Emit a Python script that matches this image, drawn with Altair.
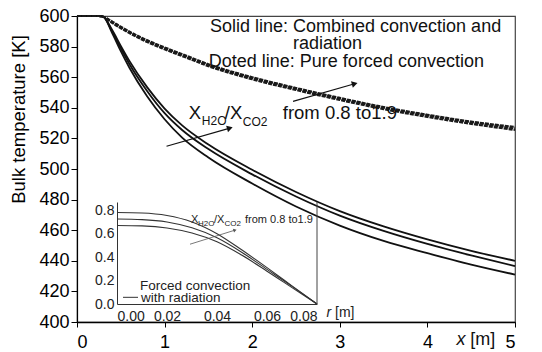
import altair as alt
import pandas as pd

# ---------------- main chart data ----------------
x_solid = [0, 0.25, 0.3, 0.4, 0.5, 0.6, 0.8, 1.0, 1.2, 1.5, 2.0, 2.5, 3.0, 3.5, 4.0, 4.5, 5.0]
T_solid_a = [600, 600, 599.5, 591, 580.5, 570.5, 553.5, 539.5, 528.5, 516, 499.5, 485, 472.5, 462.5, 454, 446.5, 440]
T_solid_b = [600, 600, 599.5, 590, 579, 568.5, 551, 536.5, 525.5, 513, 496.5, 482, 469.5, 459.5, 451, 443.5, 436.5]
T_solid_c = [600, 600, 599.5, 589, 577, 566, 547.5, 532.5, 520.5, 507.5, 490.5, 475.5, 463, 453, 445, 437.5, 431]

x_forced = [0, 0.25, 0.3, 0.4, 0.5, 0.75, 1.0, 1.25, 1.5, 2.0, 2.5, 3.0, 3.5, 4.0, 4.5, 5.0]
T_forced_a = [600, 600, 599.5, 596.5, 593, 585.5, 579.5, 574, 568.5, 560, 553, 546.5, 540.5, 535.5, 531, 527.5]
T_forced_b = [600, 600, 599.5, 596, 592.5, 585, 579, 573.5, 568, 559.5, 552.5, 546, 540, 535, 530.5, 526.5]
T_forced_c = [600, 600, 599.5, 595.5, 592, 584.3, 578.2, 572.7, 567.2, 558.6, 551.6, 545.1, 539.1, 534, 529.5, 525.5]

y_ticks = [400, 420, 440, 460, 480, 500, 520, 540, 560, 580, 600]
x_ticks = [0, 1, 2, 3, 4, 5]

# annotation texts of the main plot (data coordinates)
note_text = ["Solid line: Combined convection and", "radiation", "Doted line: Pure forced convection"]
note_x = [3.18, 2.86, 3.075]
note_T = [593, 581.5, 570.2]

ratio_text = ["X", "H2O", "/X", "CO2", "from 0.8 to1.9"]
ratio_x = [1.277, 1.425, 1.688, 1.893, 2.349]
ratio_T = [536.8, 531.6, 536.8, 531.0, 536.8]
ratio_size = [18.5, 12, 18.5, 12, 18.5]

arrow_x = [1.022, 2.466]
arrow_T = [514.9, 544.2]
arrow_x2 = [1.745, 3.170]
arrow_T2 = [526.7, 555.7]
arrow_angle = [74, 74]

# ---------------- inset data ----------------
r_inset = [0, 0.01, 0.02, 0.03, 0.04, 0.05, 0.06, 0.07, 0.08]
v_a = [0.78, 0.776, 0.755, 0.70, 0.60, 0.46, 0.31, 0.155, 0.0]
v_b = [0.725, 0.72, 0.70, 0.65, 0.565, 0.44, 0.295, 0.15, 0.0]
v_c = [0.67, 0.666, 0.648, 0.605, 0.53, 0.415, 0.28, 0.14, 0.0]
r_ticks = [0.0, 0.02, 0.04, 0.06, 0.08]
v_ticks = [0.0, 0.2, 0.4, 0.6, 0.8]

inset_text = ["X", "H2O", "/X", "CO2", "from 0.8 to1.9", "Forced convection", "with radiation"]
inset_tx = [0.0296, 0.0324, 0.0388, 0.0430, 0.0512, 0.0092, 0.0096]
inset_tv = [0.715, 0.681, 0.715, 0.681, 0.715, 0.152, 0.049]
inset_tsize = [11, 8, 11, 8, 11, 13.5, 13.5]

inset_arrow = {"r": [0.0292], "v": [0.51], "r2": [0.0472], "v2": [0.63], "angle": [72]}
legend_seg = {"r": [0.0024], "v": [0.057], "r2": [0.0084], "v2": [0.057]}

FONT = "Liberation Sans"

# ---------------- build frames ----------------
solid_rows = []
for name, ys in [("a", T_solid_a), ("b", T_solid_b), ("c", T_solid_c)]:
    for x, t in zip(x_solid, ys):
        solid_rows.append({"x": x, "T": t, "s": name})
solid_df = pd.DataFrame(solid_rows)

forced_rows = []
for name, ys in [("a", T_forced_a), ("b", T_forced_b), ("c", T_forced_c)]:
    for x, t in zip(x_forced, ys):
        forced_rows.append({"x": x, "T": t, "s": name})
forced_df = pd.DataFrame(forced_rows)

notes_df = pd.DataFrame({"x": note_x, "T": note_T, "text": note_text})
ratio_df = pd.DataFrame({"x": ratio_x, "T": ratio_T, "text": ratio_text, "size": ratio_size})
arrow_df = pd.DataFrame({"x": arrow_x, "T": arrow_T, "x2": arrow_x2, "T2": arrow_T2, "angle": arrow_angle})
head_df = pd.DataFrame({"x": arrow_x2, "T": arrow_T2, "angle": arrow_angle})
xlabel_it_df = pd.DataFrame({"x": [4.333], "T": [388.5], "text": ["x"]})
xlabel_df = pd.DataFrame({"x": [4.49], "T": [388.5], "text": ["[m]"]})

inset_rows = []
for name, ys in [("a", v_a), ("b", v_b), ("c", v_c)]:
    for r, v in zip(r_inset, ys):
        inset_rows.append({"r": r, "v": v, "s": name})
inset_df = pd.DataFrame(inset_rows)
inset_text_df = pd.DataFrame({"r": inset_tx, "v": inset_tv, "text": inset_text, "size": inset_tsize})
inset_arrow_df = pd.DataFrame(inset_arrow)
inset_head_df = pd.DataFrame({"r": inset_arrow["r2"], "v": inset_arrow["v2"], "angle": inset_arrow["angle"]})
legend_df = pd.DataFrame(legend_seg)
border_df = pd.DataFrame({"r": [0.08], "v": [0.0], "v2": [0.87]})
rlabel_it_df = pd.DataFrame({"r": [0.0838], "v": [-0.08], "text": ["r"]})
rlabel_df = pd.DataFrame({"r": [0.0872], "v": [-0.08], "text": ["[m]"]})

# ---------------- main encodings ----------------
X = alt.X("x:Q", scale=alt.Scale(domain=[0, 5], nice=False),
          axis=alt.Axis(values=x_ticks, title=None, labelFontSize=18, labelFont=FONT,
                        labelColor="black", tickColor="black", tickSize=5, labelPadding=6,
                        domainColor="black", domainWidth=1.5, grid=False, format="d"))
Y = alt.Y("T:Q", scale=alt.Scale(domain=[400, 600], nice=False),
          axis=alt.Axis(values=y_ticks, title="Bulk temperature [K]", titleFontSize=18.5,
                        titleFont=FONT, titleFontWeight="normal", titleColor="black",
                        titleAngle=270, titleAlign="center", titleBaseline="bottom",
                        titleX=-49, titleY=103, labelFontSize=18, labelFont=FONT,
                        labelColor="black", tickColor="black", tickSize=6, labelPadding=2,
                        domainColor="black", domainWidth=1.2, grid=False))

solid = alt.Chart(solid_df).mark_line(color="#111", strokeWidth=1.8, interpolate="monotone").encode(
    x=X, y=Y, detail="s:N")
forced = alt.Chart(forced_df).mark_line(color="#1a1a1a", strokeWidth=2.1, strokeDash=[4, 1],
                                        interpolate="monotone").encode(x=X, y=Y, detail="s:N")
notes = alt.Chart(notes_df).mark_text(font=FONT, fontSize=18, color="#111", align="center",
                                      baseline="middle").encode(x=X, y=Y, text="text:N")
ratio = alt.Chart(ratio_df).mark_text(font=FONT, color="#111", align="left", baseline="middle").encode(
    x=X, y=Y, text="text:N", size=alt.Size("size:Q", scale=None, legend=None))
arrows = alt.Chart(arrow_df).mark_rule(color="#111", strokeWidth=1.2).encode(
    x=X, y=Y, x2="x2:Q", y2="T2:Q")
heads = alt.Chart(head_df).mark_point(shape="triangle-up", filled=True, color="#111", size=45,
                                      opacity=1).encode(
    x=X, y=Y, angle=alt.Angle("angle:Q", scale=None))
xlabel_it = alt.Chart(xlabel_it_df).mark_text(font=FONT, fontSize=18, fontStyle="italic", color="#111",
                                              align="left", baseline="middle").encode(
    x=X, y=Y, text="text:N")
xlabel = alt.Chart(xlabel_df).mark_text(font=FONT, fontSize=18, color="#111", align="left",
                                        baseline="middle").encode(x=X, y=Y, text="text:N")

main = alt.layer(solid, forced, notes, ratio, arrows, heads, xlabel_it, xlabel)

# ---------------- inset encodings ----------------
RX = alt.X("r:Q", scale=alt.Scale(domain=[0, 0.08], range=[40, 240], nice=False),
           axis=alt.Axis(orient="bottom", offset=-18, values=r_ticks, format=".2f", title=None,
                         labelFontSize=14, labelFont=FONT, labelColor="#222", ticks=False,
                         labelPadding=5, domainColor="#333", grid=False))
RY = alt.Y("v:Q", scale=alt.Scale(domain=[0, 0.87], range=[288, 186], nice=False),
           axis=alt.Axis(orient="left", offset=-40, values=v_ticks, format=".1f", title=None,
                         labelFontSize=14, labelFont=FONT, labelColor="#222", ticks=False,
                         labelPadding=3, domainColor="#333", grid=False))

inset_lines = alt.Chart(inset_df).mark_line(color="#333", strokeWidth=1.1, interpolate="monotone").encode(
    x=RX, y=RY, detail="s:N")
inset_border = alt.Chart(border_df).mark_rule(color="#444", strokeWidth=1).encode(x=RX, y=RY, y2="v2:Q")
inset_texts = alt.Chart(inset_text_df).mark_text(font=FONT, color="#222", align="left",
                                                 baseline="middle").encode(
    x=RX, y=RY, text="text:N", size=alt.Size("size:Q", scale=None, legend=None))
inset_arrow_line = alt.Chart(inset_arrow_df).mark_rule(color="#555", strokeWidth=0.8).encode(
    x=RX, y=RY, x2="r2:Q", y2="v2:Q")
inset_head = alt.Chart(inset_head_df).mark_point(shape="triangle-up", filled=True, color="#555",
                                                 size=14, opacity=1).encode(
    x=RX, y=RY, angle=alt.Angle("angle:Q", scale=None))
inset_legend = alt.Chart(legend_df).mark_rule(color="#333", strokeWidth=1).encode(
    x=RX, y=RY, x2="r2:Q", y2="v2:Q")
rlabel_it = alt.Chart(rlabel_it_df).mark_text(font=FONT, fontSize=14, fontStyle="italic", color="#222",
                                              align="left", baseline="middle").encode(
    x=RX, y=RY, text="text:N")
rlabel = alt.Chart(rlabel_df).mark_text(font=FONT, fontSize=14, color="#222", align="left",
                                        baseline="middle").encode(x=RX, y=RY, text="text:N")

inset = alt.layer(inset_lines, inset_border, inset_texts, inset_arrow_line, inset_head,
                  inset_legend, rlabel_it, rlabel)

chart = alt.layer(main, inset).resolve_scale(x="independent", y="independent").properties(
    width=438, height=306,
    autosize=alt.AutoSizeParams(type="none"),
    padding={"left": 69, "top": 8, "right": 19, "bottom": 28},
    background="white",
).configure_view(stroke="#444", strokeWidth=1.2)

chart.save("out.html", embed_options={"renderer": "svg", "actions": False})
